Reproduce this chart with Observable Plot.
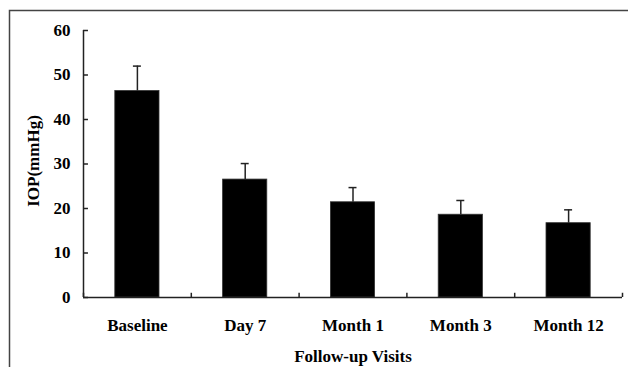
<!DOCTYPE html>
<html><head><meta charset="utf-8">
<script src="https://cdn.jsdelivr.net/npm/d3@7"></script>
<script src="https://cdn.jsdelivr.net/npm/@observablehq/plot@0.6"></script>
<style>body{margin:0;background:#fff}</style>
</head><body><div id="chart"></div>
<script>
const visits = ["Baseline", "Day 7", "Month 1", "Month 3", "Month 12"];
const iopMean = [46.4, 26.5, 21.4, 18.6, 16.7];
const iopSD = [5.6, 3.6, 3.3, 3.2, 3.0];
const yTicks = [0, 10, 20, 30, 40, 50, 60];

const data = visits.map((v, i) => ({i, visit: v, mean: iopMean[i], sd: iopSD[i]}));
const bounds = d3.range(visits.length + 1).map(k => k - 0.5);
const font = {fontFamily: "'Liberation Serif', 'Times New Roman', serif", fontWeight: "bold", fontSize: 17, fill: "black"};
const axisColor = "#222";

const plot = Plot.plot({
  width: 628,
  height: 367,
  marginLeft: 83,
  marginRight: 6,
  marginTop: 30,
  marginBottom: 70,
  style: {fontFamily: "'Liberation Serif', serif", fontWeight: "bold", fontSize: "17px", color: "black", background: "white"},
  x: {type: "linear", domain: [-0.5, visits.length - 0.5], axis: null, label: null},
  y: {domain: [0, 60], axis: null, label: null},
  marks: [
    Plot.rectY(data, {x1: d => d.i - 0.205, x2: d => d.i + 0.205, y1: 0, y2: "mean", fill: "black", stroke: "#333", strokeWidth: 0.8}),
    Plot.ruleX(data, {x: "i", y1: "mean", y2: d => d.mean + d.sd, stroke: axisColor, strokeWidth: 1.5}),
    Plot.ruleY(data, {y: d => d.mean + d.sd, x1: d => d.i - 0.037, x2: d => d.i + 0.037, stroke: axisColor, strokeWidth: 1.5}),
    // axis lines
    Plot.ruleX([-0.5], {y1: 0, y2: 60, stroke: axisColor, strokeWidth: 1.5}),
    Plot.ruleY([0], {x1: -0.5, x2: visits.length - 0.5, stroke: axisColor, strokeWidth: 1.5}),
    // inward y ticks
    Plot.ruleY(yTicks, {y: d => d, x1: -0.5, x2: -0.5 + 0.046, stroke: axisColor, strokeWidth: 1.5}),
    // x boundary ticks
    Plot.ruleX(bounds, {x: d => d, y1: 0, y2: 0.95, stroke: axisColor, strokeWidth: 1.5}),
    Plot.axisY({ticks: yTicks, tickSize: 0, tickPadding: 13, label: null, ...font}),
    Plot.axisX({ticks: d3.range(visits.length), tickFormat: i => visits[i], tickSize: 0, tickPadding: 21, label: null, ...font}),
    Plot.text(["Follow-up Visits"], {text: d => d, frameAnchor: "bottom", dy: 64, lineAnchor: "bottom", textAnchor: "middle", ...font}),
    Plot.text(["IOP(mmHg)"], {text: d => d, frameAnchor: "left", dx: -50, dy: -3, rotate: -90, lineAnchor: "middle", textAnchor: "middle", ...font})
  ]
});

d3.select(plot).append("path")
  .attr("d", "M9.5,367V10.5H628")
  .attr("fill", "none")
  .attr("stroke", "#444")
  .attr("stroke-width", 1.5);

document.getElementById("chart").appendChild(plot);
</script>
</body></html>
